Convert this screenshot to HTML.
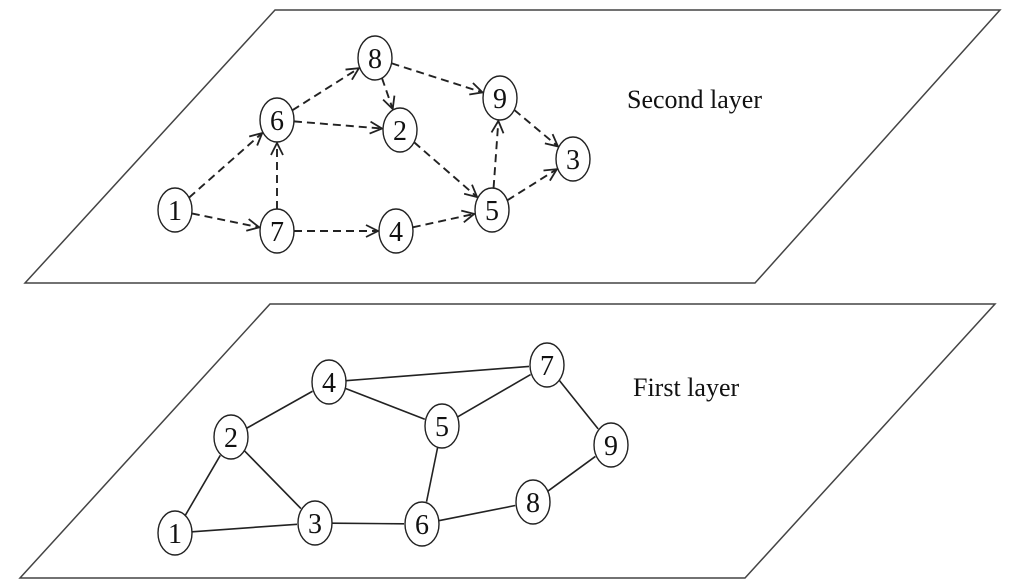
<!DOCTYPE html>
<html><head><meta charset="utf-8"><style>html,body{margin:0;padding:0;background:#fff}svg{display:block}</style></head>
<body>
<svg id="s" width="1024" height="587" viewBox="0 0 1024 587" xmlns="http://www.w3.org/2000/svg" style="font-family:'Liberation Serif',serif">
<defs>
<marker id="ar" viewBox="0 0 14 14" refX="13" refY="7" markerWidth="14" markerHeight="14" markerUnits="userSpaceOnUse" orient="auto">
<path d="M1,1 L13,7 L1,13" fill="none" stroke="#222" stroke-width="1.8"/>
</marker>
</defs>
<polygon points="275,10 1000,10 755,283 25,283" fill="none" stroke="#444" stroke-width="1.5"/>
<polygon points="270,304 995,304 745,578 20,578" fill="none" stroke="#444" stroke-width="1.5"/>
<g id="edges"></g>
<g id="nodes" fill="#fff" stroke="#222" stroke-width="1.4">
<ellipse cx="375" cy="58" rx="17" ry="22"/><ellipse cx="277" cy="120" rx="17" ry="22"/><ellipse cx="400" cy="130" rx="17" ry="22"/><ellipse cx="500" cy="98" rx="17" ry="22"/><ellipse cx="573" cy="159" rx="17" ry="22"/><ellipse cx="175" cy="210" rx="17" ry="22"/><ellipse cx="277" cy="231" rx="17" ry="22"/><ellipse cx="396" cy="231" rx="17" ry="22"/><ellipse cx="492" cy="210" rx="17" ry="22"/>
<ellipse cx="329" cy="382" rx="17" ry="22"/><ellipse cx="547" cy="365" rx="17" ry="22"/><ellipse cx="231" cy="437" rx="17" ry="22"/><ellipse cx="442" cy="426" rx="17" ry="22"/><ellipse cx="611" cy="445" rx="17" ry="22"/><ellipse cx="533" cy="502" rx="17" ry="22"/><ellipse cx="175" cy="533" rx="17" ry="22"/><ellipse cx="315" cy="523" rx="17" ry="22"/><ellipse cx="422" cy="524" rx="17" ry="22"/>
</g>
<g font-size="28" text-anchor="middle" fill="#111" style="font-family:'Liberation Serif',serif">
<text x="375" y="68">8</text><text x="277" y="130">6</text><text x="400" y="140">2</text><text x="500" y="108">9</text><text x="573" y="169">3</text><text x="175" y="220">1</text><text x="277" y="241">7</text><text x="396" y="241">4</text><text x="492" y="220">5</text>
<text x="329" y="392">4</text><text x="547" y="375">7</text><text x="231" y="447">2</text><text x="442" y="436">5</text><text x="611" y="455">9</text><text x="533" y="512">8</text><text x="175" y="543">1</text><text x="315" y="533">3</text><text x="422" y="534">6</text>
</g>
<text x="627" y="108" font-size="26" fill="#111" style="font-family:'Liberation Serif',serif">Second layer</text>
<text x="633" y="396" font-size="26" fill="#111" style="font-family:'Liberation Serif',serif">First layer</text>
<script>
(function(){
var T={8:[375,58],6:[277,120],2:[400,130],9:[500,98],3:[573,159],1:[175,210],7:[277,231],4:[396,231],5:[492,210]};
var B={4:[329,382],7:[547,365],2:[231,437],5:[442,426],9:[611,445],8:[533,502],1:[175,533],3:[315,523],6:[422,524]};
var ns="http://www.w3.org/2000/svg",g=document.getElementById("edges");
function tr(p,q,rx,ry){var dx=q[0]-p[0],dy=q[1]-p[1],t=1/Math.sqrt(dx*dx/(rx*rx)+dy*dy/(ry*ry));return [p[0]+dx*t,p[1]+dy*t];}
function line(a,b,dash){var s=tr(a,b,17,22),e=tr(b,a,18,23);var l=document.createElementNS(ns,"line");
l.setAttribute("x1",s[0]);l.setAttribute("y1",s[1]);l.setAttribute("x2",e[0]);l.setAttribute("y2",e[1]);
l.setAttribute("stroke","#222");l.setAttribute("stroke-width",dash?"1.9":"1.6");
if(dash){l.setAttribute("stroke-dasharray","8,5");l.setAttribute("marker-end","url(#ar)");}g.appendChild(l);}
[[1,6],[1,7],[7,6],[6,8],[6,2],[8,2],[8,9],[7,4],[4,5],[2,5],[5,9],[9,3],[5,3]].forEach(function(e){line(T[e[0]],T[e[1]],true);});
[[1,2],[1,3],[2,3],[2,4],[4,7],[4,5],[5,7],[5,6],[3,6],[6,8],[8,9],[7,9]].forEach(function(e){line(B[e[0]],B[e[1]],false);});
})();
</script>
</svg>
</body></html>
